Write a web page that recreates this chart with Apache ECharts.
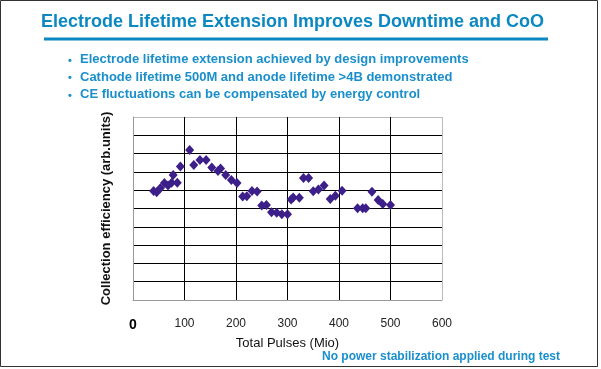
<!DOCTYPE html>
<html>
<head>
<meta charset="utf-8">
<script src="https://cdn.jsdelivr.net/npm/echarts@6/dist/echarts.min.js"></script>
<style>html,body{margin:0;padding:0;background:#fff;}#c{width:601px;height:369px;}</style>
</head>
<body>
<div id="c"></div>
<script>
const titleText = 'Electrode Lifetime Extension Improves Downtime and CoO';
const bullets = [
  'Electrode lifetime extension achieved by design improvements',
  'Cathode lifetime 500M and anode lifetime >4B demonstrated',
  'CE fluctuations can be compensated by energy control'
];
const footerText = 'No power stabilization applied during test';
const xTicks = [0, 100, 200, 300, 400, 500, 600];
const pulses = [40, 46, 53, 61, 68, 75, 78, 86, 92, 110, 118, 130, 142, 153, 165, 170, 180, 191, 202,
  213, 221, 231, 241, 250, 259, 269, 279, 289, 300, 307, 311, 323, 331, 341, 350, 360, 371, 383, 393, 406,
  436, 446, 452, 464, 476, 485, 500];
const efficiency = [5.96, 5.89, 6.10, 6.39, 6.26, 6.41, 6.83, 6.41, 7.30, 8.20, 7.38, 7.65, 7.65, 7.24, 7.05, 7.19, 6.83, 6.56, 6.39,
  5.66, 5.67, 5.96, 5.93, 5.16, 5.19, 4.80, 4.77, 4.69, 4.69, 5.49, 5.60, 5.59, 6.67, 6.67, 5.94, 6.04, 6.26, 5.52, 5.70, 5.97,
  5.01, 5.01, 5.01, 5.92, 5.46, 5.25, 5.19];

const points = pulses.map((x, i) => [x, efficiency[i]]);
const chart = echarts.init(document.getElementById('c'), null, {renderer: 'canvas'});
const blue = '#0b87c1';
const lblue = '#1a8fcb';
const FONT = '"Liberation Sans", Arial, sans-serif';
const graphics = [
  {type: 'rect', shape: {x: 0.5, y: 0.5, width: 597, height: 366}, style: {fill: 'none', stroke: '#333', lineWidth: 1}},
  {type: 'text', left: 41, top: 13, style: {text: titleText, font: 'bold 18px ' + FONT, fill: blue}},
  {type: 'rect', shape: {x: 44, y: 37.5, width: 504, height: 3}, style: {fill: blue}},
  {type: 'text', left: 322, top: 351, style: {text: footerText, font: 'bold 12px ' + FONT, fill: lblue}}
];
bullets.forEach((b, i) => {
  graphics.push({type: 'text', left: 68, top: 55 + i * 17.5, style: {text: '•', font: 'bold 11px ' + FONT, fill: lblue}});
  graphics.push({type: 'text', left: 80, top: 53 + i * 17.5, style: {text: b, font: 'bold 13px ' + FONT, fill: lblue}});
});
const ySplitColors = ['#999', '#000', '#000', '#000', '#000', '#000', '#000', '#000', '#000', '#000', '#bbb'];
const xSplitColors = ['#999', '#000', '#000', '#000', '#000', '#000', '#bbb'];
chart.setOption({
  animation: false,
  backgroundColor: '#fff',
  grid: {left: 133, right: 159, top: 117, bottom: 69, containLabel: false},
  graphic: graphics,
  xAxis: {
    type: 'value', min: 0, max: 600, interval: 100,
    name: 'Total Pulses (Mio)', nameLocation: 'middle', nameGap: 37,
    nameTextStyle: {fontFamily: FONT, fontSize: 13, color: '#111'},
    axisLine: {show: true, lineStyle: {color: '#999', width: 1}},
    axisTick: {show: false},
    splitLine: {show: true, lineStyle: {color: xSplitColors, width: 1}},
    axisLabel: {
      margin: 18, fontFamily: FONT, fontSize: 12, color: '#222',
      formatter: v => xTicks.includes(v) ? (v === 0 ? '{b|0}' : String(v)) : '',
      rich: {b: {fontWeight: 'bold', fontSize: 14, color: '#000', fontFamily: FONT}}
    }
  },
  yAxis: {
    type: 'value', min: 0, max: 10, interval: 1,
    name: 'Collection efficiency (arb.units)', nameLocation: 'middle', nameGap: 20,
    nameTextStyle: {fontFamily: FONT, fontSize: 13, fontWeight: 'bold', color: '#111'},
    axisLine: {show: true, lineStyle: {color: '#999', width: 1}},
    axisTick: {show: false},
    axisLabel: {show: false},
    splitLine: {show: true, lineStyle: {color: ySplitColors, width: 1}}
  },
  series: [{
    type: 'scatter', data: points, symbol: 'diamond', symbolSize: [9, 10],
    itemStyle: {color: '#3d1f8a', opacity: 1}
  }]
});
</script>
</body>
</html>
